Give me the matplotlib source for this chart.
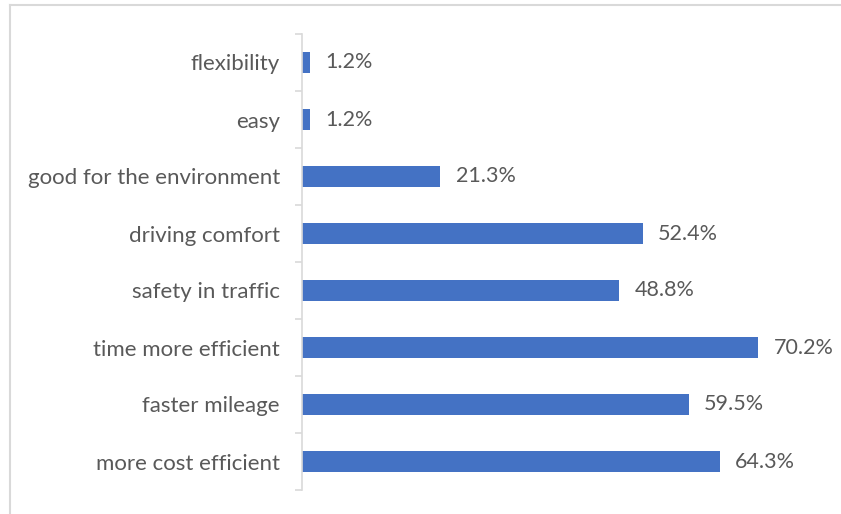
import matplotlib.pyplot as plt
from matplotlib.lines import Line2D

categories = ["more cost efficient", "faster mileage", "time more efficient",
              "safety in traffic", "driving comfort", "good for the environment",
              "easy", "flexibility"]
values = [64.3, 59.5, 70.2, 48.8, 52.4, 21.3, 1.2, 1.2]

plt.rcParams['font.family'] = ['Lato', 'DejaVu Sans']
txt = '#595959'
grey = '#d9d9d9'

fig = plt.figure(figsize=(8.41, 5.14), dpi=100)
ax = fig.add_axes([302 / 841, 24 / 514, 520 / 841, 456 / 514])

y = range(len(categories))
ax.barh(y, values, height=0.36, color='#4472c4')
for i, v in enumerate(values):
    ax.annotate(f"{v}%", (v, i), xytext=(11, 0), textcoords='offset points',
                va='center', ha='left', fontsize=15.5, color=txt)

ax.set_xlim(0, 80)
ax.set_ylim(-0.5, len(categories) - 0.5)
ax.set_yticks(list(y))
ax.set_yticklabels(categories, fontsize=16, color=txt)
ax.set_yticks([i - 0.5 for i in range(len(categories) + 1)], minor=True)
ax.tick_params(axis='y', which='major', length=0, pad=16)
ax.tick_params(axis='y', which='minor', length=5, color=grey, width=1.2)
ax.set_xticks([])
for s in ['top', 'right', 'bottom']:
    ax.spines[s].set_visible(False)
ax.spines['left'].set_color(grey)
ax.spines['left'].set_linewidth(1.2)

# chart border (top and left visible)
fig.add_artist(Line2D([10 / 841, 10 / 841], [0, 1 - 5 / 514], color=grey, lw=1.5))
fig.add_artist(Line2D([10 / 841, 1], [1 - 5 / 514, 1 - 5 / 514], color=grey, lw=1.5))

fig.savefig("out.png", dpi=100)
